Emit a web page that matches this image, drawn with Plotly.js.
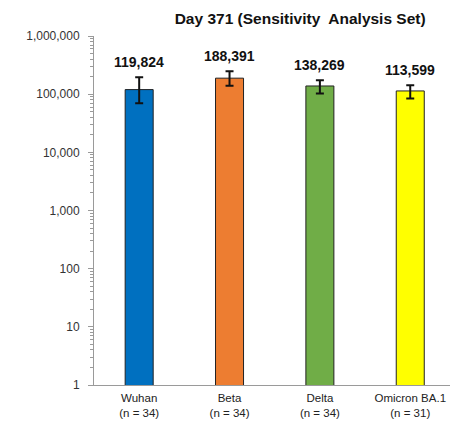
<!DOCTYPE html>
<html>
<head>
<meta charset="utf-8">
<script src="https://cdn.plot.ly/plotly-3.0.1.min.js"></script>
<style>html,body{margin:0;padding:0;background:#fff;}</style>
</head>
<body>
<div id="chart" style="width:450px;height:422px;"></div>
<script>
const categories = ["Wuhan", "Beta", "Delta", "Omicron BA.1"];
const nLabels = ["(n = 34)", "(n = 34)", "(n = 34)", "(n = 31)"];
const gmt = [119824, 188391, 138269, 113599];
const ciUpper = [196000, 248000, 174000, 143000];
const ciLower = [70000, 139000, 103000, 84000];
const barColors = ["#0070C0", "#ED7D31", "#70AD47", "#FFFF00"];
const yTickVals = [1, 10, 100, 1000, 10000, 100000, 1000000];
const yTickText = ["1", "10", "100", "1,000", "10,000", "100,000", "1,000,000"];
const valueLabels = ["119,824", "188,391", "138,269", "113,599"];

const xIdx = categories.map((_, i) => i);
const tickText = categories.map((c, i) => c + "<br>" + nLabels[i]);

// minor tick positions: 2..9 x each decade
const minorVals = [];
for (let d = 0; d < 6; d++) {
  for (let k = 2; k <= 9; k++) minorVals.push(k * Math.pow(10, d));
}

const trace = {
  type: "bar",
  x: xIdx,
  y: gmt,
  width: 0.31,
  marker: {color: barColors, line: {color: "#222", width: 1}},
  error_y: {
    type: "data",
    symmetric: false,
    array: gmt.map((v, i) => ciUpper[i] - v),
    arrayminus: gmt.map((v, i) => v - ciLower[i]),
    color: "#111",
    thickness: 2,
    width: 4
  },
  hoverinfo: "skip"
};

const annotations = xIdx.map((x, i) => ({
  x: x,
  y: Math.log10(ciUpper[i]),
  xref: "x", yref: "y",
  text: valueLabels[i],
  showarrow: false,
  yanchor: "bottom",
  yshift: 5,
  font: {family: "Arial, Liberation Sans, sans-serif", size: 14, color: "#111", weight: "bold"}
}));

const layout = {
  width: 450, height: 422,
  margin: {l: 94, r: 0, t: 36, b: 37},
  paper_bgcolor: "#fff", plot_bgcolor: "#fff",
  showlegend: false,
  title: {
    text: "<b>Day 371 (Sensitivity\u00a0 Analysis Set)</b>",
    xref: "container", yref: "container",
    x: 0.667, y: 0.957, xanchor: "center", yanchor: "middle",
    font: {family: "Arial, Liberation Sans, sans-serif", size: 15.5, color: "#111"}
  },
  xaxis: {
    range: [-0.5, 3.44],
    tickvals: xIdx,
    ticktext: tickText,
    showline: true, linecolor: "#9a9a9a", linewidth: 1,
    ticks: "", showgrid: false, zeroline: false,
    ticklabelstandoff: 2,
    tickfont: {family: "Arial, Liberation Sans, sans-serif", size: 11.5, color: "#222"},
    fixedrange: true
  },
  yaxis: {
    type: "log",
    range: [0, 6],
    tickvals: yTickVals,
    ticktext: yTickText,
    showline: true, linecolor: "#9a9a9a", linewidth: 1,
    ticks: "outside", ticklen: 5, tickcolor: "#9a9a9a",
    minor: {tickmode: "array", tickvals: minorVals, ticks: "outside", ticklen: 3, tickcolor: "#9a9a9a", showgrid: false},
    showgrid: false, zeroline: false,
    ticklabelstandoff: 6,
    tickfont: {family: "Arial, Liberation Sans, sans-serif", size: 12, color: "#333"},
    fixedrange: true
  },
  annotations: annotations
};

Plotly.newPlot("chart", [trace], layout, {displayModeBar: false, staticPlot: true});
</script>
</body>
</html>
